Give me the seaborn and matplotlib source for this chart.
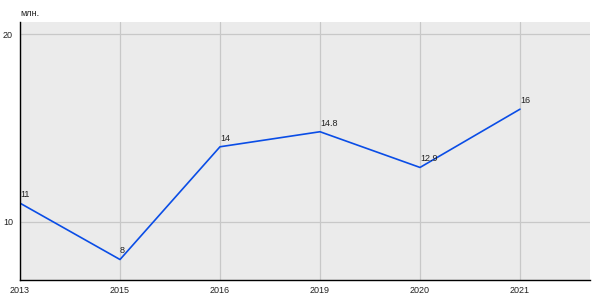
import matplotlib
matplotlib.use("Agg")
import matplotlib.pyplot as plt
import seaborn as sns
import pandas as pd

years = ["2013", "2015", "2016", "2019", "2020", "2021"]
values = [11, 8, 14, 14.8, 12.9, 16]
labels = ["11", "8", "14", "14.8", "12.9", "16"]
yticks = [10, 20]
unit = "млн."

sns.set_style("white")
plt.rcParams["font.family"] = ["Liberation Sans", "DejaVu Sans"]

df = pd.DataFrame({"pos": range(len(years)), "val": values})

fig = plt.figure(figsize=(6, 3), dpi=100)
ax = fig.add_axes([20/600, 20/300, 570/600, 258/300])
ax.set_facecolor("#ebebeb")

sns.lineplot(data=df, x="pos", y="val", ax=ax, color="#0a4de6", linewidth=1.2)

ax.set_xlim(0, 5.7)
ax.set_ylim(6.91, 20.64)
ax.set_xticks(range(len(years)))
ax.set_xticklabels(years, fontsize=6.5, color="#222222")
ax.set_yticks(yticks)
ax.set_yticklabels([str(t) for t in yticks], fontsize=6.5, color="#222222")
ax.grid(True, color="#c8c8c8", linewidth=0.9)
ax.set_axisbelow(True)
ax.set_xlabel("")
ax.set_ylabel("")

for s in ["top", "right"]:
    ax.spines[s].set_visible(False)
for s in ["left", "bottom"]:
    ax.spines[s].set_color("black")
    ax.spines[s].set_linewidth(1.0)

ax.tick_params(axis="x", length=0, pad=4)
ax.tick_params(axis="y", length=3, width=0.8, color="black", pad=2)

for i, (v, lab) in enumerate(zip(values, labels)):
    ax.annotate(lab, (i, v), xytext=(0, 3), textcoords="offset points",
                fontsize=6.5, color="#222222", ha="left", va="bottom")

fig.text(20/600, 1 - 14/300, unit, fontsize=6.5, color="#222222",
         ha="left", va="center")

fig.savefig("out.png", dpi=100)
